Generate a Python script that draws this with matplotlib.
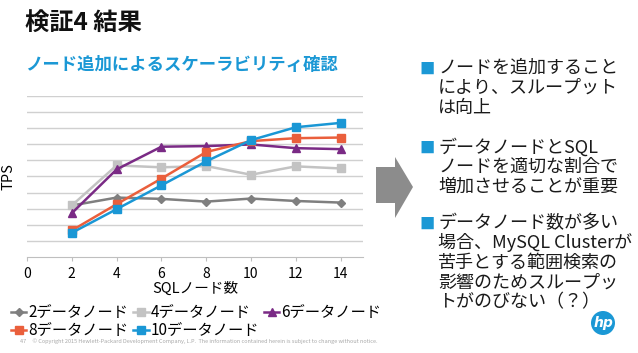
import matplotlib

matplotlib.use("Agg")
import matplotlib.pyplot as plt
from matplotlib.patches import Polygon, Ellipse

plt.rcParams["font.family"] = ["Noto Sans CJK JP", "DejaVu Sans"]

sql_nodes = [2, 4, 6, 8, 10, 12, 14]
series_names = ["2データノード", "4データノード", "6データノード", "8データノード", "10データノード"]
tps_2 = [3.2, 3.69, 3.61, 3.44, 3.63, 3.48, 3.38]
tps_4 = [3.2, 5.69, 5.57, 5.65, 5.11, 5.63, 5.5]
tps_6 = [2.72, 5.44, 6.85, 6.89, 6.99, 6.76, 6.70]
tps_8 = [1.65, 3.28, 4.87, 6.52, 7.2, 7.38, 7.42]
tps_10 = [1.5, 2.97, 4.45, 5.94, 7.26, 8.06, 8.33]
x_ticks = [0, 2, 4, 6, 8, 10, 12, 14]

bullets = [
    ["ノードを追加すること", "により、スループット", "は向上"],
    ["データノードとSQL", "ノードを適切な割合で", "増加させることが重要"],
    ["データノード数が多い", "場合、MySQL Clusterが", "苦手とする範囲検索の",
     "影響のためスループッ", "トがのびない（？）"],
]

W, H = 638, 353
fig = plt.figure(figsize=(W / 100, H / 100), dpi=100)
ax = fig.add_axes([27 / W, 1 - 257 / H, (363 - 27) / W, (257 - 96) / H])

styles = [
    (tps_2, "#7f7f7f", "D", 4),
    (tps_4, "#c3c3c3", "s", 6),
    (tps_6, "#7a2a85", "^", 6),
    (tps_8, "#ea5f3c", "s", 6),
    (tps_10, "#1a97d5", "s", 6),
]
lines = []
for (vals, color, marker, ms), name in zip(styles, series_names):
    (ln,) = ax.plot(sql_nodes, vals, color=color, marker=marker, markersize=ms,
                    linewidth=1.8, label=name, zorder=3)
    lines.append(ln)

ax.set_xlim(0, 15)
ax.set_ylim(0, 10)
ax.set_yticks(range(1, 11))
ax.set_yticklabels([])
ax.tick_params(axis="y", length=0)
ax.set_xticks(x_ticks)
ax.tick_params(axis="x", length=3, color="#bfbfbf", labelsize=10, pad=4)
ax.grid(axis="y", color="#d0d0d0", linewidth=1)
for side in ["top", "right", "left"]:
    ax.spines[side].set_visible(False)
ax.spines["bottom"].set_color("#bfbfbf")
ax.set_axisbelow(True)
ax.set_xlabel("SQLノード数", fontsize=10.5, labelpad=1)
ax.set_ylabel("TPS", fontsize=10.5, labelpad=5)

# legend fills column-wise: rows 2/4/6 then 8/10
order = [0, 3, 1, 4, 2]
fig.legend([lines[i] for i in order], [series_names[i] for i in order], ncol=3,
           loc="upper left", bbox_to_anchor=(5 / W, 1 - 298 / H), frameon=False,
           fontsize=11, handlelength=1.0, handletextpad=0.15, columnspacing=0.3,
           labelspacing=0.05, borderaxespad=0)

fig.text(25 / W, 1 - 23 / H, "検証4 結果", fontsize=17.5, fontweight="bold",
         va="center", ha="left", color="#111111")
fig.text(25 / W, 1 - 65 / H, "ノード追加によるスケーラビリティ確認", fontsize=12.5,
         fontweight="bold", va="center", ha="left", color="#1b98d5")

fig.text(20 / W, 1 - 341 / H,
         "47     © Copyright 2015 Hewlett-Packard Development Company, L.P.  "
         "The information contained herein is subject to change without notice.",
         fontsize=4.0, color="#a8a8a8", va="center", ha="left")

arrow = [(376, 167), (395, 167), (395, 157), (413, 187), (395, 218), (395, 203), (376, 203)]
fig.patches.append(Polygon([(x / W, 1 - y / H) for x, y in arrow], closed=True,
                           transform=fig.transFigure, facecolor="#8c8c8c", edgecolor="none"))

starts = [68, 147, 223]
for lines_txt, y0 in zip(bullets, starts):
    fig.text(427 / W, 1 - (y0 + 1) / H, "■", fontsize=11, color="#1b98d5",
             va="center", ha="center")
    for k, t in enumerate(lines_txt):
        fig.text(438 / W, 1 - (y0 + 19.8 * k) / H, t, fontsize=13, color="#1a1a1a",
                 va="center", ha="left")

fig.patches.append(Ellipse((603 / W, 1 - 323 / H), 24 / W, 24 / H,
                           transform=fig.transFigure, facecolor="#1b98d5", edgecolor="none"))
fig.text(603 / W, 1 - 323 / H, "hp", fontsize=10, color="white", style="italic",
         fontweight="bold", ha="center", va="center", family="DejaVu Sans")

fig.savefig("out.png", dpi=100)
